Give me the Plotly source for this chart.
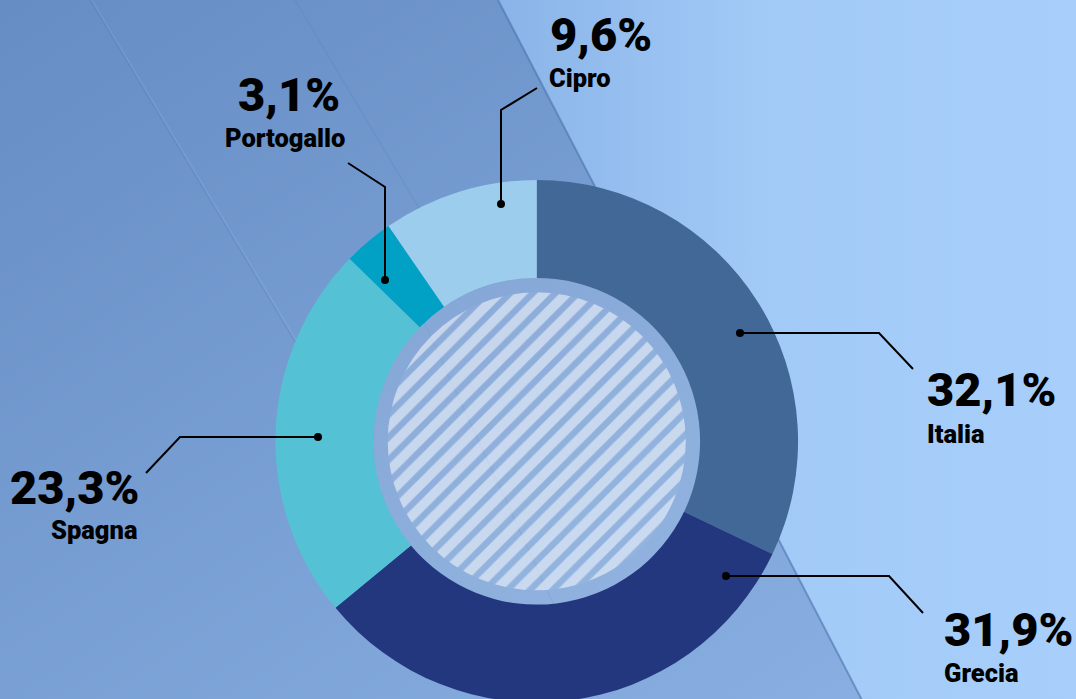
import base64
import plotly.graph_objects as go

# ---------------- data ----------------
countries = ["Italia", "Grecia", "Spagna", "Portogallo", "Cipro"]
shares = [32.1, 31.9, 23.3, 3.1, 9.6]
slice_colors = ["#416897", "#23377f", "#55c1d4", "#00a1c4", "#9dcdec"]

# ---------------- layout helpers ----------------
W, H = 1076, 699                # visible window
FH = 704                        # figure height (bottom 5px of donut fall outside the window)
CX, CY = 536.75, 441.3          # donut centre (pixels, from top-left)
R_OUT = 261.3                   # outer radius
R_HOLE = 163.3                  # radius of the inner disc
R_HATCH = 149.0                 # radius of the hatched disc


def px(x):
    return x / W


def py(y):
    return 1 - y / FH


def domain_for(radius):
    return dict(x=[(CX - radius) / W, (CX + radius) / W],
                y=[(FH - CY - radius) / FH, (FH - CY + radius) / FH])


# callout geometry (pixels): dot, elbow, end, percent label anchor, name label anchor
callouts = {
    "Italia":     dict(pts=[(740, 333), (879, 333), (913, 369)], pct=(925, 389, "left"), name=(925, 434, "left")),
    "Grecia":     dict(pts=[(726, 576), (889, 576), (923, 613)], pct=(942, 629, "left"), name=(942, 673, "left")),
    "Spagna":     dict(pts=[(318, 437), (180, 437), (146, 473)], pct=(141, 487, "right"), name=(140, 530, "right")),
    "Portogallo": dict(pts=[(385, 280), (385, 187), (348, 163)], pct=(342, 94.5, "right"), name=(347, 137.5, "right")),
    "Cipro":      dict(pts=[(501, 204), (501, 110), (537, 88)], pct=(548, 34, "left"), name=(547, 78.3, "left")),
}

# ---------------- background (svg) ----------------
svg = f'''<svg xmlns="http://www.w3.org/2000/svg" width="{W}" height="{FH}" viewBox="0 0 {W} {FH}">
<defs>
<linearGradient id="gl" x1="0" y1="0" x2="1" y2="1">
<stop offset="0" stop-color="#668dc4"/><stop offset="1" stop-color="#8db3e5"/></linearGradient>
<linearGradient id="gr" x1="0" y1="0" x2="1" y2="0">
<stop offset="0" stop-color="#8ab3e8"/><stop offset="0.45" stop-color="#a2caf7"/><stop offset="1" stop-color="#a8cffb"/></linearGradient>
</defs>
<rect width="{W}" height="{FH}" fill="url(#gl)"/>
<line x1="90" y1="0" x2="330" y2="400" stroke="#4f78b2" stroke-width="1.5" stroke-opacity="0.22"/>
<line x1="92" y1="0" x2="332" y2="400" stroke="#ffffff" stroke-width="1.5" stroke-opacity="0.08"/>
<line x1="295" y1="0" x2="420" y2="210" stroke="#4f78b2" stroke-width="1.5" stroke-opacity="0.18"/>
<line x1="400" y1="270" x2="570" y2="640" stroke="#4f78b2" stroke-width="1.5" stroke-opacity="0.15"/>
<polygon points="498,0 {W},0 {W},{FH} 864,{FH}" fill="url(#gr)"/>
<line x1="498" y1="0" x2="864" y2="{FH}" stroke="#4a73ab" stroke-width="2" stroke-opacity="0.6"/>
</svg>'''
bg_src = "data:image/svg+xml;base64," + base64.b64encode(svg.encode()).decode()

fig = go.Figure()

# main donut
fig.add_trace(go.Pie(
    labels=countries, values=shares, sort=False, direction="clockwise", rotation=0,
    hole=R_HOLE / R_OUT, domain=domain_for(R_OUT),
    marker=dict(colors=slice_colors, line=dict(width=0)),
    textinfo="none", hoverinfo="label+percent", showlegend=False,
))
# translucent inner disc
fig.add_trace(go.Pie(
    labels=["centro"], values=[1], sort=False, domain=domain_for(R_HOLE),
    marker=dict(colors=["rgba(255,255,255,0.12)"], line=dict(width=0)),
    textinfo="none", hoverinfo="skip", showlegend=False,
))
# hatched disc
fig.add_trace(go.Pie(
    labels=["trama"], values=[1], sort=False, domain=domain_for(R_HATCH),
    marker=dict(colors=["rgba(255,255,255,0.04)"], line=dict(width=0),
                pattern=dict(shape="/", fgcolor="rgba(255,255,255,0.5)",
                             bgcolor="rgba(255,255,255,0.04)", size=16, solidity=0.6)),
    textinfo="none", hoverinfo="skip", showlegend=False,
))

shapes = []
annotations = []
for name, val in zip(countries, shares):
    c = callouts[name]
    pts = c["pts"]
    path = "M " + " L ".join(f"{px(x):.5f},{py(y):.5f}" for x, y in pts)
    shapes.append(dict(type="path", path=path, xref="paper", yref="paper",
                       line=dict(color="#000000", width=2)))
    dx, dy = pts[0]
    shapes.append(dict(type="circle", xref="paper", yref="paper",
                       xsizemode="pixel", ysizemode="pixel",
                       xanchor=px(dx), yanchor=py(dy), x0=-4, x1=4, y0=-4, y1=4,
                       fillcolor="#000000", line=dict(width=0)))
    pct_text = f"{val:.1f}".replace(".", ",") + "%"
    x, y, anc = c["pct"]
    annotations.append(dict(text=pct_text, x=px(x), y=py(y), xref="paper", yref="paper",
                            xanchor=anc, yanchor="middle", showarrow=False,
                            font=dict(family="Roboto", size=47, color="#000000", weight=900)))
    x, y, anc = c["name"]
    annotations.append(dict(text=name, x=px(x), y=py(y), xref="paper", yref="paper",
                            xanchor=anc, yanchor="middle", showarrow=False,
                            font=dict(family="Roboto", size=25.5, color="#000000", weight=900)))

fig.update_layout(
    width=W, height=FH,
    margin=dict(l=0, r=0, t=0, b=0),
    paper_bgcolor="#7aa2d6", plot_bgcolor="rgba(0,0,0,0)",
    images=[dict(source=bg_src, xref="paper", yref="paper", x=0, y=1, sizex=1, sizey=1,
                 xanchor="left", yanchor="top", sizing="stretch", layer="below")],
    shapes=shapes, annotations=annotations,
    showlegend=False,
)

fig.write_html(
    "out.html",
    config={"displayModeBar": False},
    post_script="document.body.style.margin='0';document.body.style.overflow='hidden';"
                "document.documentElement.style.overflow='hidden';",
)
